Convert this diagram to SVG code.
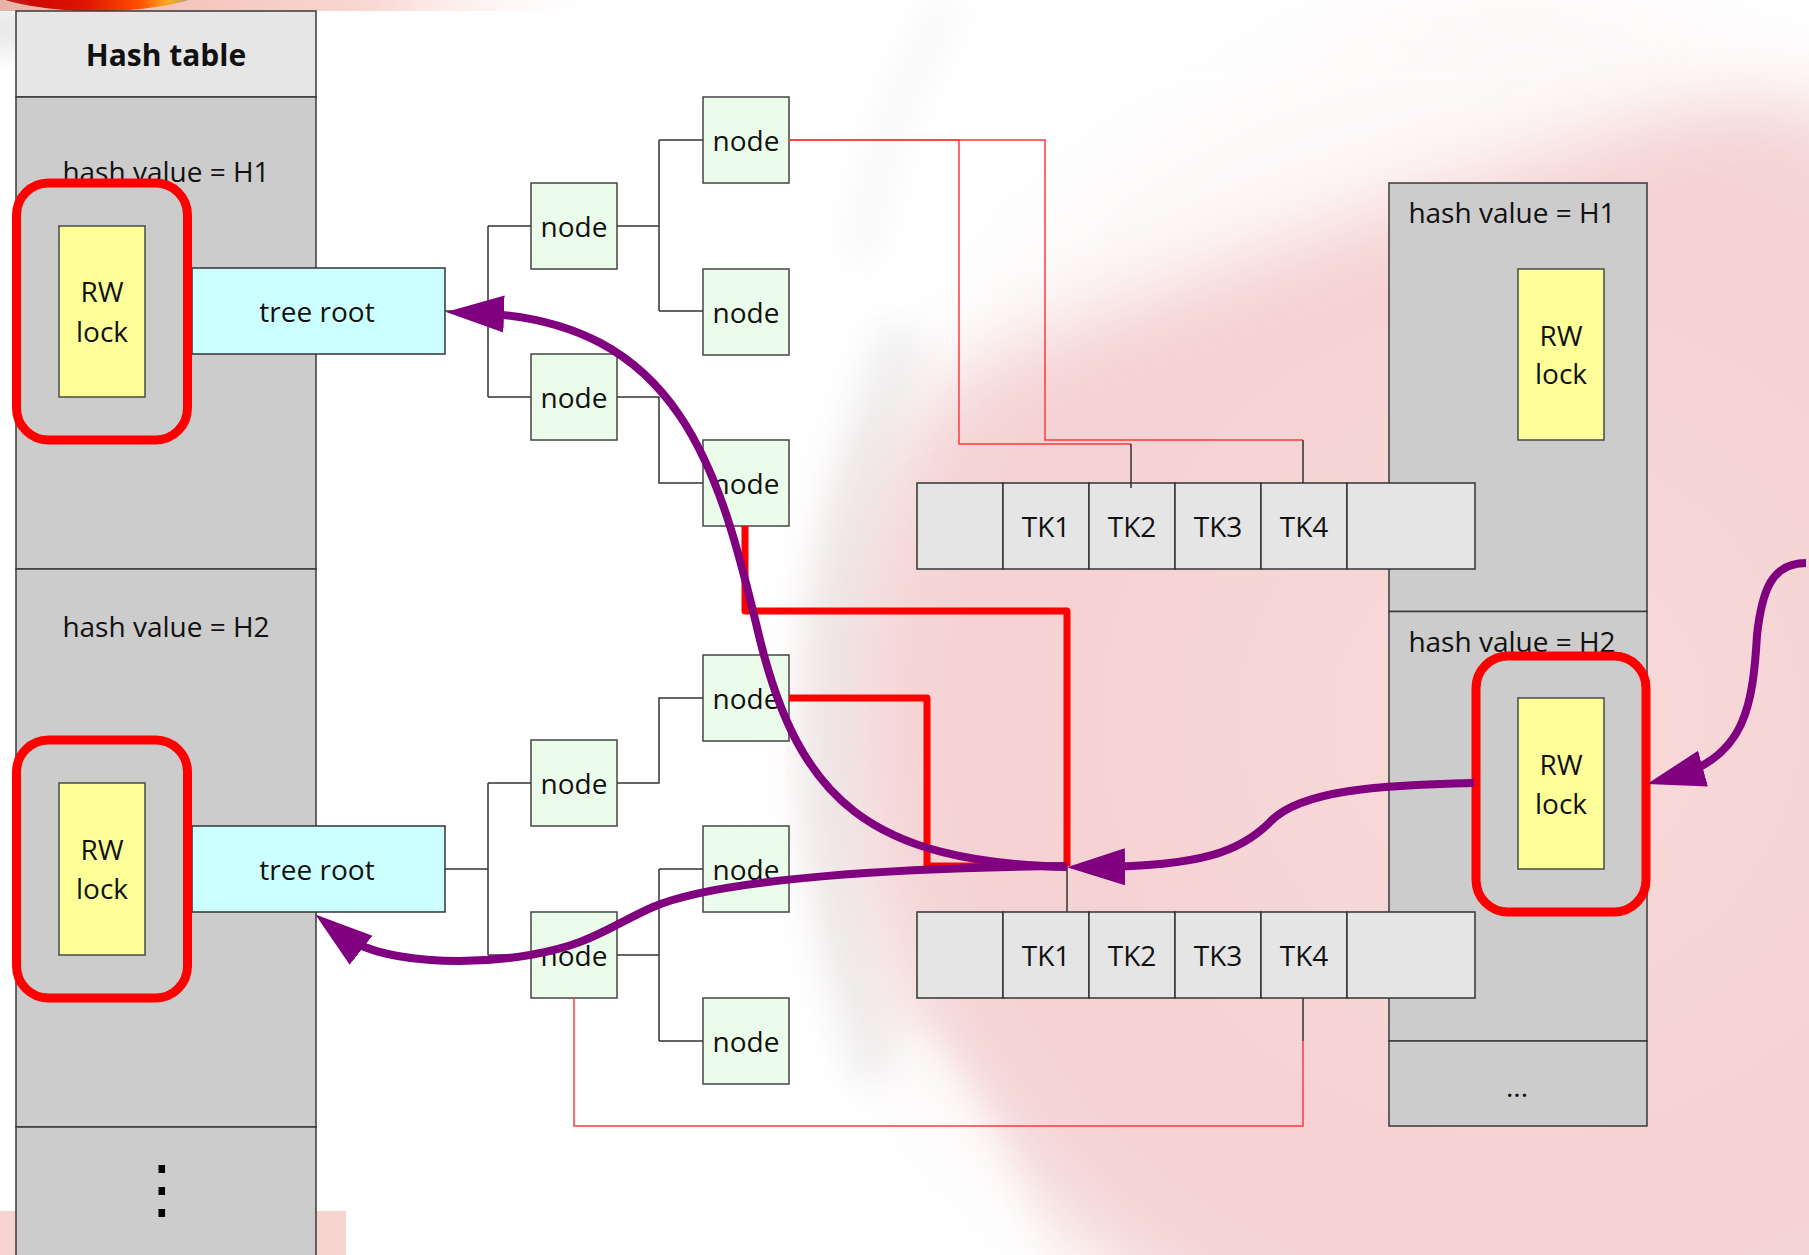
<svg xmlns="http://www.w3.org/2000/svg" width="1809" height="1255" viewBox="0 0 1809 1255">
  <defs>
    <style>
      .bucket{fill:#cccccc;stroke:#3a3a3a;stroke-width:1.5}
      .head{fill:#e6e6e6;stroke:#3a3a3a;stroke-width:1.5}
      .lock{fill:#ffff99;stroke:#4a4a4a;stroke-width:1.5}
      .root{fill:#ccffff;stroke:#333;stroke-width:1.5}
      .node{fill:#ebfdea;stroke:#444;stroke-width:1.5}
      .tk{fill:#e5e5e5;stroke:#333;stroke-width:1.5}
      .frame{fill:none;stroke:#ff0000;stroke-width:9}
      .t{font-family:"Open Sans","Noto Sans",sans-serif;font-size:28px;fill:#111;text-anchor:middle}
      .tb{font-family:"Open Sans","Noto Sans",sans-serif;font-size:30px;font-weight:bold;fill:#111;text-anchor:middle}
      .link{fill:none;stroke:#333;stroke-width:1.5}
      .rlink{fill:none;stroke:#ff3b3b;stroke-width:1.5}
      .rthick{fill:none;stroke:#ff0000;stroke-width:7;stroke-linejoin:round}
      .flow{fill:none;stroke:#800080;stroke-width:8;marker-end:url(#head)}
    </style>
    <marker id="head" markerUnits="userSpaceOnUse" viewBox="0 -20 60 40" markerWidth="60" markerHeight="40" refX="28" refY="0" orient="auto">
      <path d="M58,0 L0,-18.5 L0,18.5 Z" fill="#800080"/>
    </marker>
    <filter id="soft" x="-50%" y="-50%" width="200%" height="200%"><feGaussianBlur stdDeviation="40"/></filter>
    <filter id="softer" x="-50%" y="-50%" width="200%" height="200%"><feGaussianBlur stdDeviation="18"/></filter>
    <radialGradient id="sphere" cx="1520" cy="720" r="720" gradientUnits="userSpaceOnUse">
      <stop offset="0" stop-color="#f8dbd9"/>
      <stop offset="0.7" stop-color="#f5d1d3"/>
      <stop offset="0.93" stop-color="#f4d6d7"/>
      <stop offset="1" stop-color="#ffffff" stop-opacity="0"/>
    </radialGradient>
    <linearGradient id="strip" x1="0" y1="0" x2="1" y2="0">
      <stop offset="0" stop-color="#f0b2a6"/>
      <stop offset="0.6" stop-color="#f8d9d3"/>
      <stop offset="1" stop-color="#ffffff" stop-opacity="0"/>
    </linearGradient>
    <linearGradient id="blob" x1="0" y1="0" x2="1" y2="0">
      <stop offset="0" stop-color="#b80000"/>
      <stop offset="0.45" stop-color="#e01400"/>
      <stop offset="0.68" stop-color="#ff5000"/>
      <stop offset="0.8" stop-color="#f7ad25"/>
      <stop offset="0.9" stop-color="#a89890"/>
      <stop offset="1" stop-color="#d8d0cc"/>
    </linearGradient>
  </defs>

  <!-- slide background -->
  <rect x="0" y="0" width="1809" height="1255" fill="#ffffff"/>
  <circle cx="1520" cy="720" r="720" fill="url(#sphere)" filter="url(#soft)"/>
  <path d="M800,0 L1809,0 L1809,60 L1377,210 L880,393 L740,440 Z" fill="#ffffff" opacity="0.85" filter="url(#soft)"/>
  <path d="M905,330 Q760,720 880,1080" fill="none" stroke="#d6d4d4" stroke-width="50" opacity="0.35" filter="url(#softer)"/>
  <path d="M950,0 Q880,120 860,260" fill="none" stroke="#dcdcdc" stroke-width="24" opacity="0.3" filter="url(#softer)"/>
  <ellipse cx="960" cy="1160" rx="40" ry="140" transform="rotate(-25 960 1160)" fill="#ffffff" opacity="0.7" filter="url(#softer)"/>
  <rect x="0" y="0" width="620" height="11" fill="url(#strip)"/>
  <ellipse cx="97" cy="-20" rx="120" ry="31" fill="url(#blob)"/>
  <ellipse cx="4" cy="28" rx="12" ry="20" fill="#b8b8b8" filter="url(#softer)"/>
  <rect x="0" y="1211" width="346" height="44" fill="#f7d4cf"/>

  <!-- left hash table -->
  <g id="hash-table">
    <rect class="head" x="16" y="11" width="300" height="86"/>
    <rect class="bucket" x="16" y="97" width="300" height="472"/>
    <rect class="bucket" x="16" y="569" width="300" height="558"/>
    <rect class="bucket" x="16" y="1127" width="300" height="140"/>
    <text class="tb" x="166" y="66">Hash table</text>
    <text class="t" x="166" y="182">hash value = H1</text>
    <text class="t" x="166" y="637">hash value = H2</text>
    <text x="162" y="1211" font-family="DejaVu Sans, sans-serif" font-size="64" fill="#000" text-anchor="middle">⋮</text>
  </g>

  <!-- right hash table -->
  <g id="hash-table-2">
    <rect class="bucket" x="1389" y="183" width="258" height="428.5"/>
    <rect class="bucket" x="1389" y="611.5" width="258" height="429.5"/>
    <rect class="bucket" x="1389" y="1041" width="258" height="85"/>
    <text class="t" x="1512" y="223">hash value = H1</text>
    <text class="t" x="1512" y="652">hash value = H2</text>
    <text class="t" x="1517" y="1097">...</text>
  </g>

  <!-- locks -->
  <g id="lock-h1">
    <rect class="lock" x="59" y="226" width="86" height="171"/>
    <text class="t" x="102" y="302">RW</text>
    <text class="t" x="102" y="342">lock</text>
  </g>
  <g id="lock-h2">
    <rect class="lock" x="59" y="783" width="86" height="172"/>
    <text class="t" x="102" y="860">RW</text>
    <text class="t" x="102" y="899">lock</text>
  </g>
  <g id="lock-r1">
    <rect class="lock" x="1518" y="269" width="86" height="171"/>
    <text class="t" x="1561" y="346">RW</text>
    <text class="t" x="1561" y="384">lock</text>
  </g>
  <g id="lock-r2">
    <rect class="lock" x="1518" y="698" width="86" height="171"/>
    <text class="t" x="1561" y="775">RW</text>
    <text class="t" x="1561" y="814">lock</text>
  </g>

  <!-- tree roots -->
  <g id="root-h1">
    <rect class="root" x="192" y="268" width="253" height="86"/>
    <text class="t" x="317" y="322">tree root</text>
  </g>
  <g id="root-h2">
    <rect class="root" x="192" y="826" width="253" height="86"/>
    <text class="t" x="317" y="880">tree root</text>
  </g>

  <!-- upper tree -->
  <g id="node-a"><rect class="node" x="531" y="183" width="86" height="86"/><text class="t" x="574" y="237">node</text></g>
  <g id="node-b"><rect class="node" x="531" y="354" width="86" height="86"/><text class="t" x="574" y="408">node</text></g>
  <g id="node-c"><rect class="node" x="703" y="97" width="86" height="86"/><text class="t" x="746" y="151">node</text></g>
  <g id="node-d"><rect class="node" x="703" y="269" width="86" height="86"/><text class="t" x="746" y="323">node</text></g>
  <g id="node-e"><rect class="node" x="703" y="440" width="86" height="86"/><text class="t" x="746" y="494">node</text></g>

  <!-- lower tree -->
  <g id="node-g"><rect class="node" x="531" y="740" width="86" height="86"/><text class="t" x="574" y="794">node</text></g>
  <g id="node-f"><rect class="node" x="531" y="912" width="86" height="86"/><text class="t" x="574" y="966">node</text></g>
  <g id="node-h"><rect class="node" x="703" y="655" width="86" height="86"/><text class="t" x="746" y="709">node</text></g>
  <g id="node-i"><rect class="node" x="703" y="826" width="86" height="86"/><text class="t" x="746" y="880">node</text></g>
  <g id="node-j"><rect class="node" x="703" y="998" width="86" height="86"/><text class="t" x="746" y="1052">node</text></g>

  <!-- key arrays -->
  <g id="keys-1">
    <rect class="tk" x="917" y="483" width="86" height="86"/>
    <rect class="tk" x="1003" y="483" width="86" height="86"/>
    <rect class="tk" x="1089" y="483" width="86" height="86"/>
    <rect class="tk" x="1175" y="483" width="86" height="86"/>
    <rect class="tk" x="1261" y="483" width="86" height="86"/>
    <rect class="tk" x="1347" y="483" width="128" height="86"/>
    <text class="t" x="1046" y="537">TK1</text>
    <text class="t" x="1132" y="537">TK2</text>
    <text class="t" x="1218" y="537">TK3</text>
    <text class="t" x="1304" y="537">TK4</text>
  </g>
  <g id="keys-2">
    <rect class="tk" x="917" y="912" width="86" height="86"/>
    <rect class="tk" x="1003" y="912" width="86" height="86"/>
    <rect class="tk" x="1089" y="912" width="86" height="86"/>
    <rect class="tk" x="1175" y="912" width="86" height="86"/>
    <rect class="tk" x="1261" y="912" width="86" height="86"/>
    <rect class="tk" x="1347" y="912" width="128" height="86"/>
    <text class="t" x="1046" y="966">TK1</text>
    <text class="t" x="1132" y="966">TK2</text>
    <text class="t" x="1218" y="966">TK3</text>
    <text class="t" x="1304" y="966">TK4</text>
  </g>

  <!-- lock highlights -->
  <g id="frames">
    <rect class="frame" x="16.5" y="183" width="171" height="257" rx="32"/>
    <rect class="frame" x="16.5" y="740" width="171" height="258" rx="32"/>
    <rect class="frame" x="1476" y="656" width="170" height="256" rx="32"/>
  </g>

  <!-- tree links and key pointers -->
  <g id="connectors">
    <path class="link" d="M445,311 H488 M488,226 V397 M488,226 H531 M488,397 H531"/>
    <path class="link" d="M617,226 H659 M659,140 V311 M659,140 H703 M659,311 H703"/>
    <path class="link" d="M617,397 H659 V483 H703"/>
    <path class="link" d="M445,869 H488 M488,783 V955 M488,783 H531 M488,955 H531"/>
    <path class="link" d="M617,783 H659 V698 H703"/>
    <path class="link" d="M617,955 H659 M659,869 V1041 M659,869 H703 M659,1041 H703"/>
    <path class="rlink" d="M789,140 H959 V444 H1131"/>
    <path class="rlink" d="M789,140 H1045 V440 H1303"/>
    <path class="rlink" d="M574,998 V1126 H1303 V1041"/>
    <path class="link" d="M1131,444 V488 M1303,440 V483 M1303,1041 V998 M1067,866 V912"/>
    <path class="rthick" d="M745,526 V611 H1067 V866"/>
    <path class="rthick" d="M789,698 H927 V866 H990"/>
  </g>

  <!-- lock hand-over arrows -->
  <g id="arrows">
    <path class="flow" d="M1474,783 C1380,785 1300,790 1270,822 C1240,852 1200,866 1097,867"/>
    <path class="flow" d="M1067,867 C870,862 800,800 760,640 C720,470 680,320 476,313"/>
    <path class="flow" d="M1067,866 C900,868 720,878 653,907 C610,926 590,945 530,955 C470,965 380,965 339,933"/>
    <path class="flow" d="M1806,563 C1772,563 1762,590 1757,635 C1753,705 1745,757 1676,776"/>
  </g>
</svg>
